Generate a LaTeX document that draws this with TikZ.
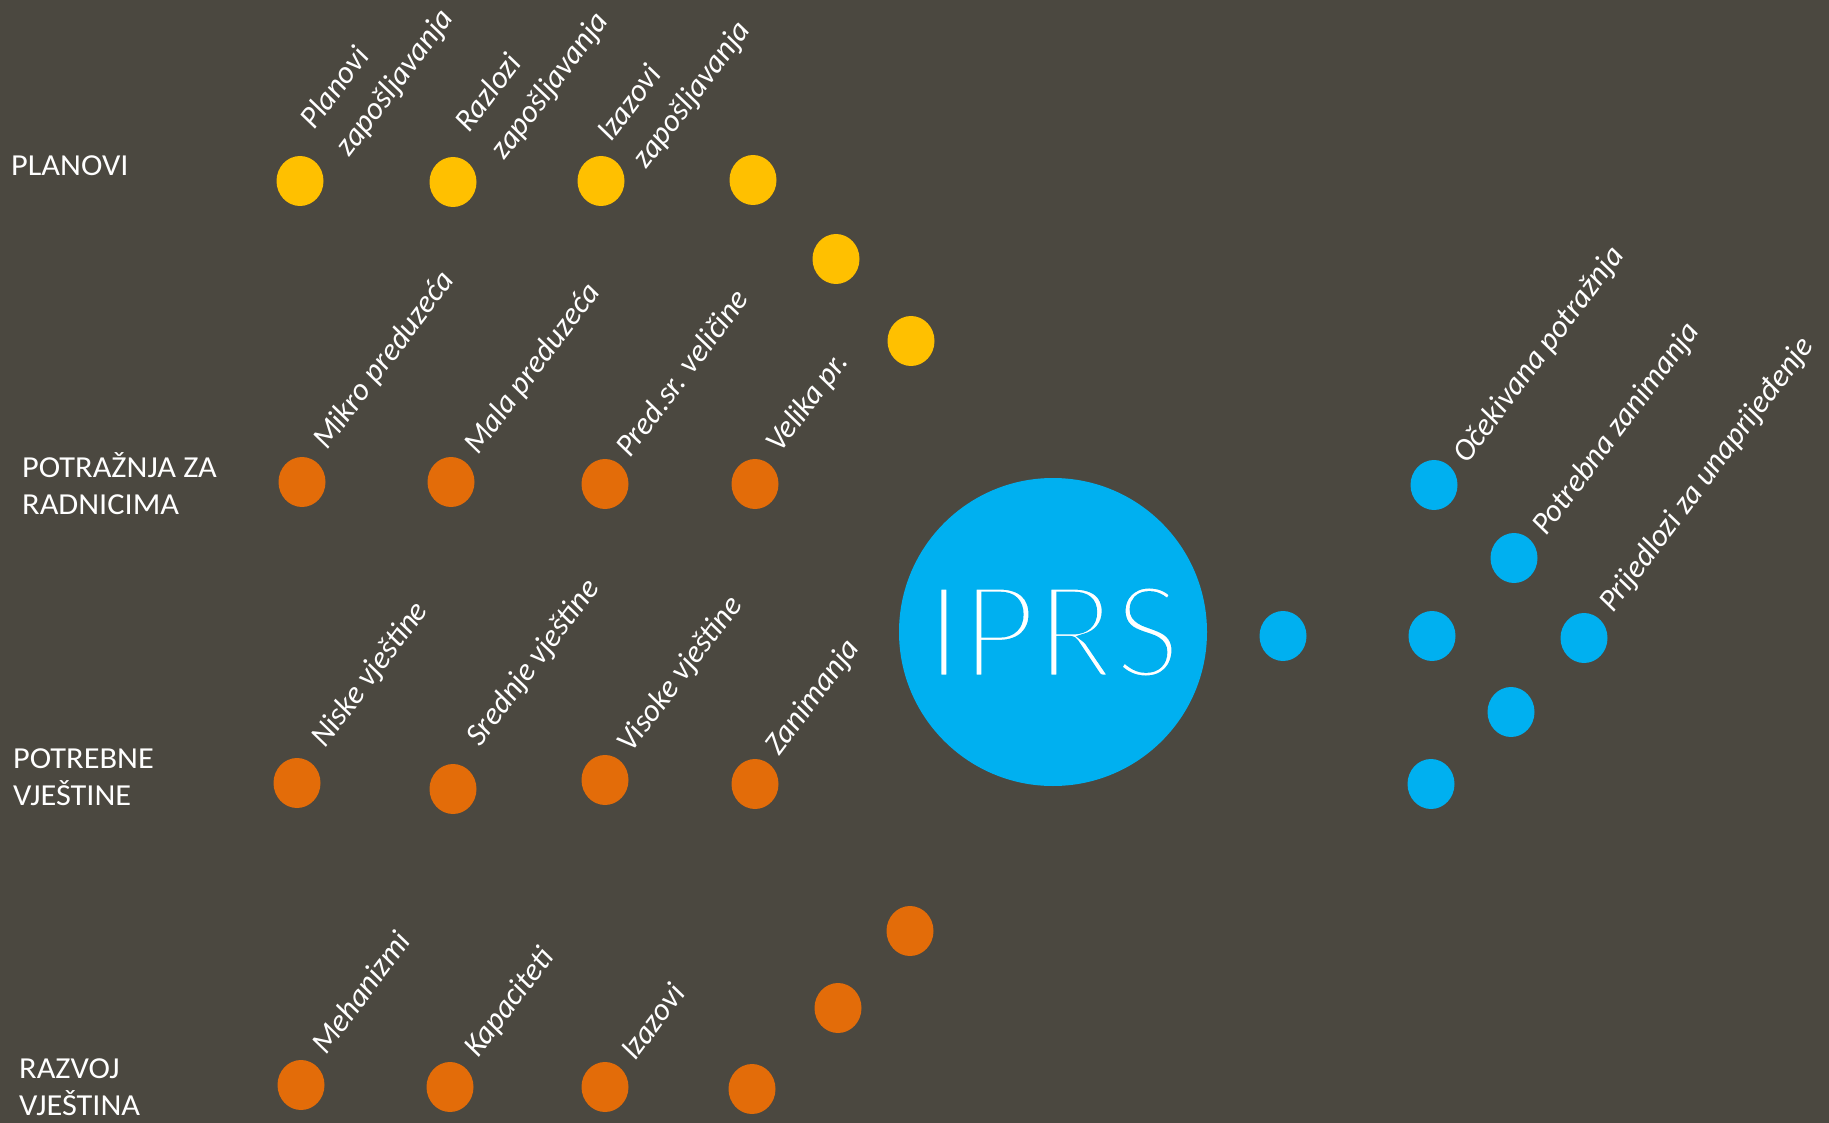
\documentclass[tikz,border=0pt]{standalone}
\usepackage{fontspec}
\setmainfont{Carlito}
\newfontfamily\catfont{Carlito}[FakeStretch=1.06]
\usetikzlibrary{shapes.geometric}
\definecolor{bgc}{HTML}{4B4840}
\definecolor{ylw}{HTML}{FFC000}
\definecolor{org}{HTML}{E36C09}
\definecolor{blu}{HTML}{00B0F0}
\tikzset{
 dotnode/.style={ellipse, minimum width=47pt, minimum height=50pt, inner sep=0pt, fill=#1},
 catlabel/.style={text=white, font=\catfont\fontsize{30.5}{37}\selectfont, align=left, inner sep=0pt, text depth=0pt, anchor=south west},
 rotlabel/.style={text=white, font=\fontsize{31.5}{44.6}\selectfont\itshape, inner sep=0pt, rotate=53, anchor=base west},
 rotlabeltwo/.style={rotlabel, align=left, text depth=0pt, anchor=south west},
}
\begin{document}
\begin{tikzpicture}[x=1pt,y=-1pt]
\fill[bgc] (0,0) rectangle (1829,1123);
\useasboundingbox (0,0) rectangle (1829,1123);

% category labels
\node[catlabel] (c1) at (11,176) {PLANOVI};
\node[catlabel] (c2) at (22,515) {POTRAŽNJA ZA\\RADNICIMA};
\node[catlabel] (c3) at (13,806) {POTREBNE\\VJEŠTINE};
\node[catlabel] (c4) at (19,1116) {RAZVOJ\\VJEŠTINA};

% yellow dots
\node[dotnode=ylw] (y1) at (300,181) {};
\node[dotnode=ylw] (y2) at (453,182) {};
\node[dotnode=ylw] (y3) at (601,181) {};
\node[dotnode=ylw] (y4) at (753,180) {};
\node[dotnode=ylw] (y5) at (836,259) {};
\node[dotnode=ylw] (y6) at (911,341) {};

% orange dots row 2
\node[dotnode=org] (o21) at (302,482) {};
\node[dotnode=org] (o22) at (451,482) {};
\node[dotnode=org] (o23) at (605,484) {};
\node[dotnode=org] (o24) at (755,484) {};
% row 3
\node[dotnode=org] (o31) at (297,783) {};
\node[dotnode=org] (o32) at (453,789) {};
\node[dotnode=org] (o33) at (605,780) {};
\node[dotnode=org] (o34) at (755,784) {};
% row 4
\node[dotnode=org] (o41) at (301,1085) {};
\node[dotnode=org] (o42) at (450,1087) {};
\node[dotnode=org] (o43) at (605,1087) {};
\node[dotnode=org] (o44) at (752,1089) {};
\node[dotnode=org] (o45) at (838,1008) {};
\node[dotnode=org] (o46) at (910,931) {};

% blue dots
\node[dotnode=blu] (b1) at (1283,636) {};
\node[dotnode=blu] (b2) at (1434,485) {};
\node[dotnode=blu] (b3) at (1514,558) {};
\node[dotnode=blu] (b4) at (1432,636) {};
\node[dotnode=blu] (b5) at (1584,638) {};
\node[dotnode=blu] (b6) at (1511,712) {};
\node[dotnode=blu] (b7) at (1431,784) {};

% central circle (glyphs thinned by a stroke in the circle colour)
\node[circle, fill=blu, minimum size=308pt, inner sep=0pt, text=white,
      font=\fontsize{145}{150}\selectfont] (iprs) at (1053,632)
      {\special{pdf:literal direct 2 Tr 8 w 0 0.690 0.941 RG}IPRS\special{pdf:literal direct 0 Tr}};

% rotated labels, top row
\node[rotlabeltwo] (l11) at (350,158) {Planovi\\zapošljavanja};
\node[rotlabeltwo] (l12) at (505,161) {Razlozi\\zapošljavanja};
\node[rotlabeltwo] (l13) at (647,170) {Izazovi\\zapošljavanja};

% row 2
\node[rotlabel] (l21) at (327,451) {Mikro preduzeća};
\node[rotlabel] (l22) at (478,456) {Mala preduzeća};
\node[rotlabel] (l23) at (630,459) {Pred.sr. veličine};
\node[rotlabel] (l24) at (780,454) {Velika pr.};

% row 3
\node[rotlabel] (l31) at (325,749) {Niske vještine};
\node[rotlabel] (l32) at (480,748) {Srednje vještine};
\node[rotlabel] (l33) at (631,754) {Visoke vještine};
\node[rotlabel] (l34) at (779,757) {Zanimanja};

% row 4
\node[rotlabel] (l41) at (326,1056) {Mehanizmi};
\node[rotlabel] (l42) at (478,1059) {Kapaciteti};
\node[rotlabel] (l43) at (635,1062) {Izazovi};

% right labels
\node[rotlabel] (r1) at (1467,465) {Očekivana potražnja};
\node[rotlabel] (r2) at (1546,537) {Potrebna zanimanja};
\node[rotlabel] (r3) at (1613,614) {Prijedlozi za unaprijeđenje};
\end{tikzpicture}
\end{document}
